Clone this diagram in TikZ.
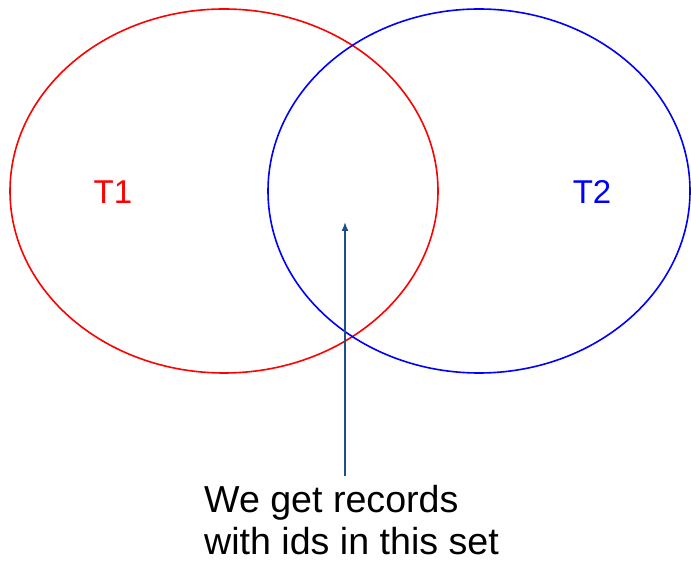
\documentclass[tikz,border=0pt]{standalone}
\usepackage{fontspec}
\setmainfont{Liberation Sans}
\usetikzlibrary{arrows.meta}
\definecolor{arrowblue}{HTML}{1F4E8C}
\begin{document}
\begin{tikzpicture}[x=1pt,y=-1pt,
  setred/.style={draw=red,line width=1.6pt},
  setblue/.style={draw=blue,line width=1.6pt},
  lbl/.style={font=\fontsize{33}{36}\selectfont,inner sep=0pt},
  pointer/.style={draw=arrowblue,line width=1.6pt,-{Latex[length=9pt,width=7pt]}}]
\useasboundingbox (0,0) rectangle (691,561);
\draw[setred] (224,191) ellipse [x radius=214, y radius=182];
\draw[setblue] (479,191) ellipse [x radius=211, y radius=182];
\node[lbl,text=red] (t1) at (113,192) {T1};
\node[lbl,text=blue] (t2) at (592,192) {T2};
\coordinate (tip) at (345,222);
\node[anchor=north west,align=left,inner sep=0pt,font=\fontsize{37.6}{42}\selectfont] (txt) at (204,485) {We get records\\with ids in this set};
\coordinate (base) at (345,476);
\draw[pointer] (base) -- (tip);
\end{tikzpicture}
\end{document}
